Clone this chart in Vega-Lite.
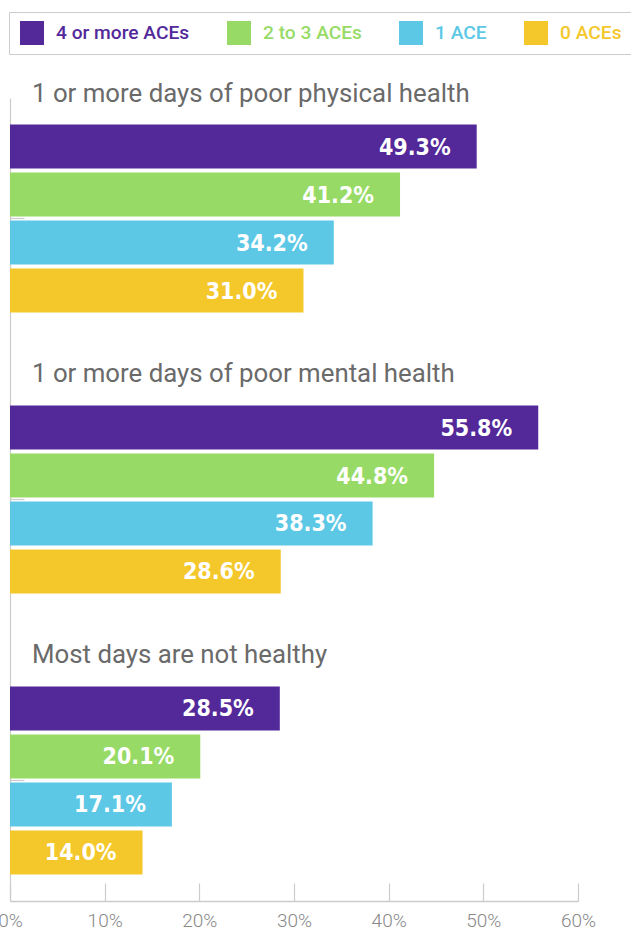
{
  "$schema": "https://vega.github.io/schema/vega-lite/v6.json",
  "autosize": {"type": "none"},
  "width": 568,
  "height": 803,
  "padding": {"left": 10, "top": 98, "right": 53, "bottom": 29},
  "background": "white",
  "config": {"view": {"stroke": null}, "font": "Roboto"},
  "datasets": {
    "bars": [
      {"group": "1 or more days of poor physical health", "series": "4 or more ACEs", "value": 0.493},
      {"group": "1 or more days of poor physical health", "series": "2 to 3 ACEs", "value": 0.412},
      {"group": "1 or more days of poor physical health", "series": "1 ACE", "value": 0.342},
      {"group": "1 or more days of poor physical health", "series": "0 ACEs", "value": 0.310},
      {"group": "1 or more days of poor mental health", "series": "4 or more ACEs", "value": 0.558},
      {"group": "1 or more days of poor mental health", "series": "2 to 3 ACEs", "value": 0.448},
      {"group": "1 or more days of poor mental health", "series": "1 ACE", "value": 0.383},
      {"group": "1 or more days of poor mental health", "series": "0 ACEs", "value": 0.286},
      {"group": "Most days are not healthy", "series": "4 or more ACEs", "value": 0.285},
      {"group": "Most days are not healthy", "series": "2 to 3 ACEs", "value": 0.201},
      {"group": "Most days are not healthy", "series": "1 ACE", "value": 0.171},
      {"group": "Most days are not healthy", "series": "0 ACEs", "value": 0.140}
    ],
    "groups": [
      {"group": "1 or more days of poor physical health"},
      {"group": "1 or more days of poor mental health"},
      {"group": "Most days are not healthy"}
    ]
  },
  "layer": [
    {
      "data": {"name": "bars"},
      "mark": {"type": "bar"},
      "encoding": {
        "y": {
          "field": "group", "type": "nominal", "sort": null,
          "scale": {"paddingInner": 0.3167, "paddingOuter": 0.0872},
          "axis": {"title": null, "labels": false, "tickSize": -14, "tickColor": "#cccccc", "domainColor": "#cccccc", "domainWidth": 1.2, "tickWidth": 1.2}
        },
        "yOffset": {
          "field": "series", "type": "nominal",
          "scale": {"domain": ["4 or more ACEs", "2 to 3 ACEs", "1 ACE", "0 ACEs"], "paddingInner": 0.0833, "paddingOuter": 0.0417}
        },
        "x": {
          "field": "value", "type": "quantitative",
          "scale": {"domain": [0, 0.6], "nice": false},
          "axis": {"title": null, "values": [0, 0.1, 0.2, 0.3, 0.4, 0.5, 0.6], "format": ".0%", "grid": false, "tickSize": -18, "tickColor": "#cccccc", "domainColor": "#cccccc", "domainWidth": 1.5, "tickWidth": 1.2, "labelFontSize": 19, "labelFont": "Roboto", "labelFontWeight": 300, "labelColor": "#888888", "labelPadding": 28, "labelFlush": false}
        },
        "color": {
          "field": "series", "type": "nominal",
          "scale": {"domain": ["4 or more ACEs", "2 to 3 ACEs", "1 ACE", "0 ACEs"], "range": ["#53299a", "#97db66", "#5cc8e6", "#f4c72b"]},
          "legend": {
            "title": null, "orient": "none", "direction": "horizontal", "legendX": -1, "legendY": -86,
            "symbolType": "square", "symbolSize": 576, "symbolStrokeWidth": 0, "symbolOpacity": 1, "symbolOffset": 2,
            "labelFontSize": 19.2, "labelFont": "Roboto", "labelFontWeight": 500, "labelOffset": 12, "columnPadding": 35,
            "padding": 9, "strokeColor": "#cccccc", "fillColor": "white",
            "encode": {"labels": {"update": {"fill": {"scale": "color", "field": "value"}}}}
          }
        }
      }
    },
    {
      "data": {"name": "bars"},
      "mark": {"type": "text", "align": "right", "baseline": "middle", "dx": -26, "dy": 1, "font": "'Liberation Sans Narrow', 'DejaVu Sans Condensed', Roboto", "fontWeight": "bold", "fontSize": 23, "color": "white"},
      "encoding": {
        "y": {"field": "group", "type": "nominal", "sort": null, "scale": {"paddingInner": 0.3167, "paddingOuter": 0.0872}},
        "yOffset": {"field": "series", "type": "nominal", "scale": {"domain": ["4 or more ACEs", "2 to 3 ACEs", "1 ACE", "0 ACEs"], "paddingInner": 0.0833, "paddingOuter": 0.0417}},
        "x": {"field": "value", "type": "quantitative"},
        "text": {"field": "value", "type": "quantitative", "format": ".1%"}
      }
    },
    {
      "data": {"name": "groups"},
      "mark": {"type": "text", "align": "left", "baseline": "alphabetic", "dx": 22, "dy": -21, "font": "Roboto", "fontSize": 25.8, "color": "#6a6a6a"},
      "encoding": {
        "y": {"field": "group", "type": "nominal", "sort": null, "bandPosition": 0},
        "x": {"datum": 0, "type": "quantitative"},
        "text": {"field": "group"}
      }
    }
  ]
}
